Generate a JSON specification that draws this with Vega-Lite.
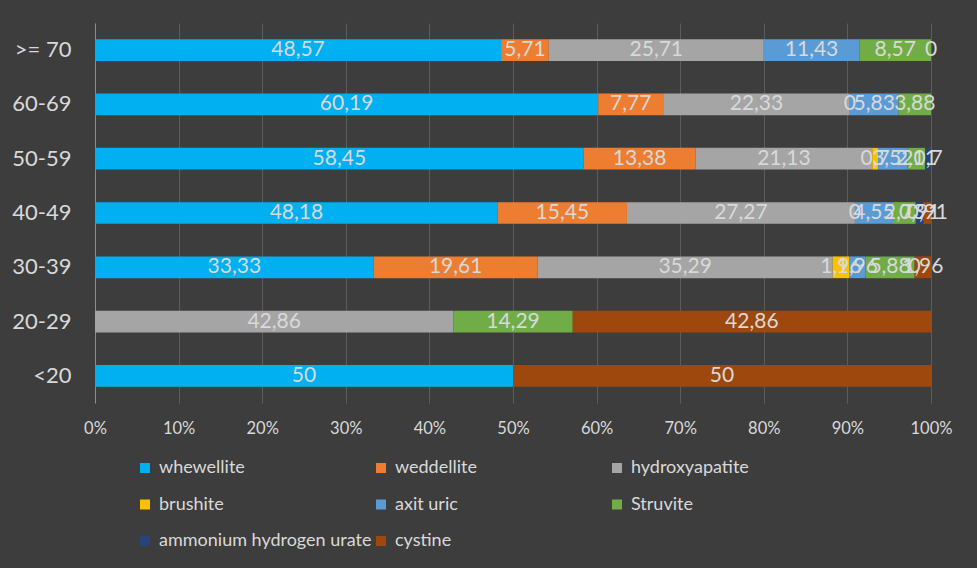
{
  "$schema": "https://vega.github.io/schema/vega-lite/v6.json",
  "width": 836,
  "height": 380,
  "autosize": {"type": "none"},
  "padding": {"left": 95, "top": 23, "right": 46, "bottom": 165},
  "background": "#3d3d3d",
  "config": {
    "view": {"stroke": null},
    "font": "Lato",
    "locale": {"number": {"decimal": ",", "thousands": ".", "grouping": [3], "currency": ["", ""]}}
  },
  "datasets": {
    "minerals": [
      {"mineral": "whewellite", "rank": 1},
      {"mineral": "weddellite", "rank": 2},
      {"mineral": "hydroxyapatite", "rank": 3},
      {"mineral": "brushite", "rank": 4},
      {"mineral": "axit uric", "rank": 5},
      {"mineral": "Struvite", "rank": 6},
      {"mineral": "ammonium hydrogen urate", "rank": 7},
      {"mineral": "cystine", "rank": 8}
    ],
    "stones": [
      {"age": ">= 70", "mineral": "whewellite", "value": 48.57},
      {"age": ">= 70", "mineral": "weddellite", "value": 5.71},
      {"age": ">= 70", "mineral": "hydroxyapatite", "value": 25.71},
      {"age": ">= 70", "mineral": "axit uric", "value": 11.43},
      {"age": ">= 70", "mineral": "Struvite", "value": 8.57},
      {"age": ">= 70", "mineral": "ammonium hydrogen urate", "value": 0},
      {"age": "60-69", "mineral": "whewellite", "value": 60.19},
      {"age": "60-69", "mineral": "weddellite", "value": 7.77},
      {"age": "60-69", "mineral": "hydroxyapatite", "value": 22.33},
      {"age": "60-69", "mineral": "brushite", "value": 0},
      {"age": "60-69", "mineral": "axit uric", "value": 5.83},
      {"age": "60-69", "mineral": "Struvite", "value": 3.88},
      {"age": "50-59", "mineral": "whewellite", "value": 58.45},
      {"age": "50-59", "mineral": "weddellite", "value": 13.38},
      {"age": "50-59", "mineral": "hydroxyapatite", "value": 21.13},
      {"age": "50-59", "mineral": "brushite", "value": 0.7},
      {"age": "50-59", "mineral": "axit uric", "value": 3.52},
      {"age": "50-59", "mineral": "Struvite", "value": 2.11},
      {"age": "50-59", "mineral": "ammonium hydrogen urate", "value": 0.7},
      {"age": "40-49", "mineral": "whewellite", "value": 48.18},
      {"age": "40-49", "mineral": "weddellite", "value": 15.45},
      {"age": "40-49", "mineral": "hydroxyapatite", "value": 27.27},
      {"age": "40-49", "mineral": "brushite", "value": 0},
      {"age": "40-49", "mineral": "axit uric", "value": 4.55},
      {"age": "40-49", "mineral": "Struvite", "value": 2.73},
      {"age": "40-49", "mineral": "ammonium hydrogen urate", "value": 0.91},
      {"age": "40-49", "mineral": "cystine", "value": 0.91},
      {"age": "30-39", "mineral": "whewellite", "value": 33.33},
      {"age": "30-39", "mineral": "weddellite", "value": 19.61},
      {"age": "30-39", "mineral": "hydroxyapatite", "value": 35.29},
      {"age": "30-39", "mineral": "brushite", "value": 1.96},
      {"age": "30-39", "mineral": "axit uric", "value": 1.96},
      {"age": "30-39", "mineral": "Struvite", "value": 5.88},
      {"age": "30-39", "mineral": "ammonium hydrogen urate", "value": 0},
      {"age": "30-39", "mineral": "cystine", "value": 1.96},
      {"age": "20-29", "mineral": "hydroxyapatite", "value": 42.86},
      {"age": "20-29", "mineral": "Struvite", "value": 14.29},
      {"age": "20-29", "mineral": "cystine", "value": 42.86},
      {"age": "<20", "mineral": "whewellite", "value": 50},
      {"age": "<20", "mineral": "cystine", "value": 50}
    ]
  },
  "data": {"name": "stones"},
  "transform": [
    {"lookup": "mineral", "from": {"data": {"name": "minerals"}, "key": "mineral", "fields": ["rank"]}},
    {"stack": "value", "groupby": ["age"], "sort": [{"field": "rank", "order": "ascending"}], "offset": "normalize", "as": ["x0", "x1"]}
  ],
  "encoding": {
    "y": {
      "field": "age",
      "type": "nominal",
      "sort": [">= 70", "60-69", "50-59", "40-49", "30-39", "20-29", "<20"],
      "scale": {"paddingInner": 0.6, "paddingOuter": 0.3},
      "axis": {
        "title": null,
        "ticks": false,
        "domain": true,
        "domainColor": "#8c8c8c",
        "labelColor": "#d9d9d9",
        "labelFontSize": 22,
        "labelPadding": 24,
        "grid": false
      }
    }
  },
  "layer": [
    {
      "mark": {"type": "bar"},
      "encoding": {
        "x": {
          "field": "x0",
          "type": "quantitative",
          "scale": {"domain": [0, 1], "nice": false},
          "axis": {
            "title": null,
            "format": "%",
            "values": [0, 0.1, 0.2, 0.3, 0.4, 0.5, 0.6, 0.7, 0.8, 0.9, 1],
            "domain": false,
            "ticks": false,
            "grid": true,
            "gridColor": "#5c5c5c",
            "gridWidth": 1,
            "labelFlush": false,
            "labelColor": "#d9d9d9",
            "labelFontSize": 16.5,
            "labelPadding": 17
          }
        },
        "x2": {"field": "x1"},
        "color": {
          "field": "mineral",
          "type": "nominal",
          "scale": {
            "domain": ["whewellite", "weddellite", "hydroxyapatite", "brushite", "axit uric", "Struvite", "ammonium hydrogen urate", "cystine"],
            "range": ["#00B0F0", "#ED7D31", "#A5A5A5", "#FFC000", "#5B9BD5", "#70AD47", "#264478", "#9E480E"]
          },
          "legend": {
            "title": null,
            "orient": "none",
            "legendX": 41,
            "legendY": 436,
            "direction": "horizontal",
            "columns": 3,
            "gridAlign": "all",
            "columnPadding": -4,
            "rowPadding": 18.5,
            "symbolType": "square",
            "symbolSize": 100,
            "symbolStrokeWidth": 0,
            "labelColor": "#d9d9d9",
            "labelFontSize": 18,
            "labelOffset": 5,
            "labelLimit": 300
          }
        }
      }
    },
    {
      "transform": [
        {"fold": ["x0", "x1"], "as": ["edge", "pos"]},
        {"aggregate": [{"op": "mean", "field": "pos", "as": "mid"}], "groupby": ["age", "mineral", "value"]}
      ],
      "mark": {"type": "text", "fontSize": 21, "baseline": "middle", "align": "center", "color": "#d9d9d9"},
      "encoding": {
        "x": {"field": "mid", "type": "quantitative"},
        "text": {"field": "value", "type": "quantitative", "format": ".4~g"}
      }
    }
  ]
}
